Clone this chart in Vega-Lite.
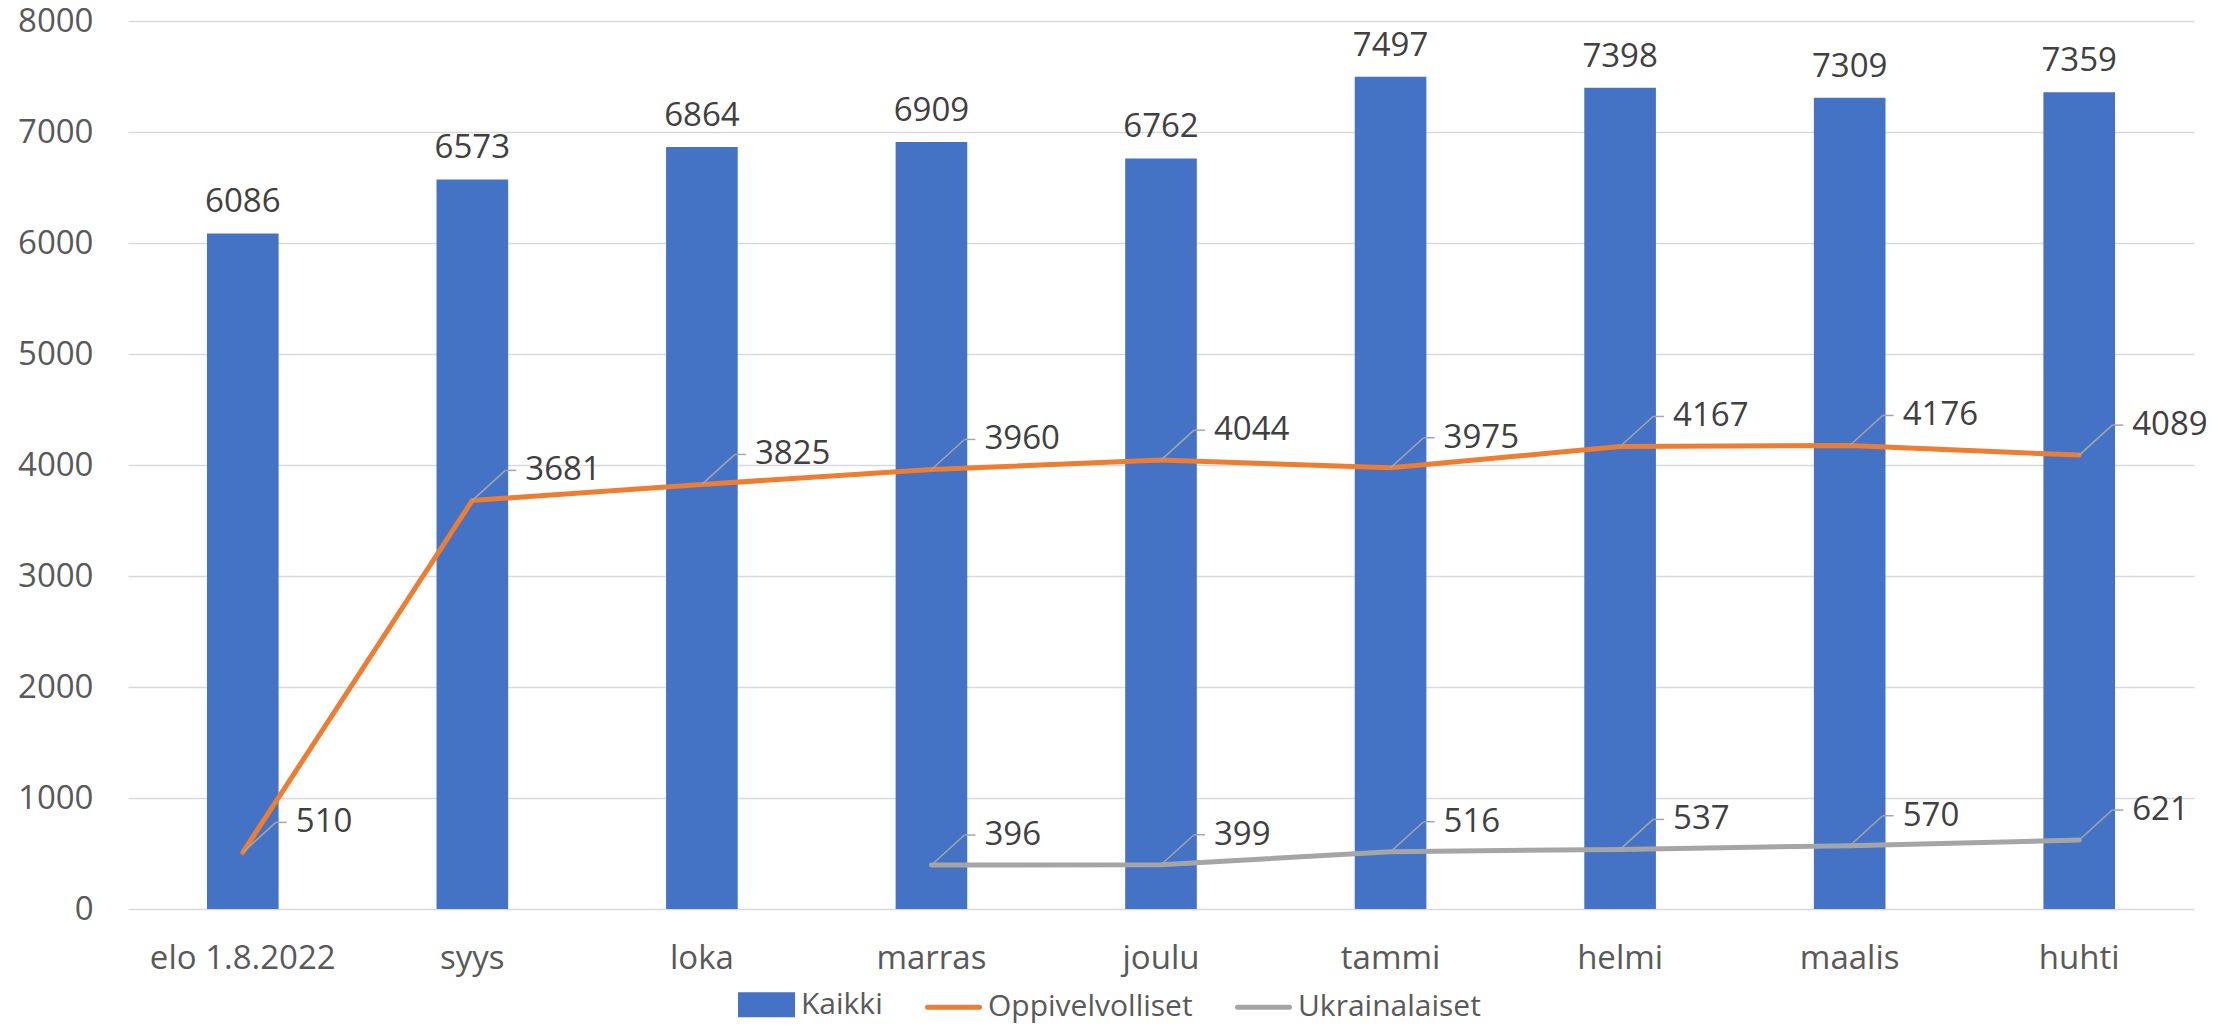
{
  "$schema": "https://vega.github.io/schema/vega-lite/v6.json",
  "autosize": {"type": "none"},
  "padding": {"left": 128, "top": 21, "right": 42, "bottom": 118},
  "width": 2066,
  "height": 888,
  "background": "white",
  "config": {
    "font": "Open Sans",
    "view": {"stroke": null},
    "axis": {"labelFont": "Open Sans", "labelColor": "#595959", "labelFontSize": 33, "labelLimit": 0}
  },
  "data": {
    "values": [
      {"month": "elo 1.8.2022", "series": "Kaikki", "value": 6086},
      {"month": "syys", "series": "Kaikki", "value": 6573},
      {"month": "loka", "series": "Kaikki", "value": 6864},
      {"month": "marras", "series": "Kaikki", "value": 6909},
      {"month": "joulu", "series": "Kaikki", "value": 6762},
      {"month": "tammi", "series": "Kaikki", "value": 7497},
      {"month": "helmi", "series": "Kaikki", "value": 7398},
      {"month": "maalis", "series": "Kaikki", "value": 7309},
      {"month": "huhti", "series": "Kaikki", "value": 7359},
      {"month": "elo 1.8.2022", "series": "Oppivelvolliset", "value": 510},
      {"month": "syys", "series": "Oppivelvolliset", "value": 3681},
      {"month": "loka", "series": "Oppivelvolliset", "value": 3825},
      {"month": "marras", "series": "Oppivelvolliset", "value": 3960},
      {"month": "joulu", "series": "Oppivelvolliset", "value": 4044},
      {"month": "tammi", "series": "Oppivelvolliset", "value": 3975},
      {"month": "helmi", "series": "Oppivelvolliset", "value": 4167},
      {"month": "maalis", "series": "Oppivelvolliset", "value": 4176},
      {"month": "huhti", "series": "Oppivelvolliset", "value": 4089},
      {"month": "marras", "series": "Ukrainalaiset", "value": 396},
      {"month": "joulu", "series": "Ukrainalaiset", "value": 399},
      {"month": "tammi", "series": "Ukrainalaiset", "value": 516},
      {"month": "helmi", "series": "Ukrainalaiset", "value": 537},
      {"month": "maalis", "series": "Ukrainalaiset", "value": 570},
      {"month": "huhti", "series": "Ukrainalaiset", "value": 621}
    ]
  },
  "encoding": {
    "x": {
      "field": "month", "type": "nominal", "sort": null, "title": null,
      "scale": {"paddingInner": 0.688, "paddingOuter": 0.344},
      "axis": {"labelAngle": 0, "ticks": false, "tickSize": 0, "domain": false, "labelPadding": 59, "labelBaseline": "alphabetic"}
    },
    "y": {
      "field": "value", "type": "quantitative", "title": null,
      "scale": {"domain": [0, 8000], "nice": false},
      "axis": {"values": [0, 1000, 2000, 3000, 4000, 5000, 6000, 7000, 8000], "format": "d", "ticks": false, "tickSize": 0, "domain": false, "labelPadding": 35, "gridColor": "#D9D9D9", "gridWidth": 1.5}
    }
  },
  "layer": [
    {
      "transform": [{"filter": "datum.series === 'Kaikki'"}],
      "mark": {"type": "bar"},
      "encoding": {
        "color": {
          "field": "series", "type": "nominal",
          "scale": {"domain": ["Kaikki", "Oppivelvolliset", "Ukrainalaiset"], "range": ["#4472C4", "#ED7D31", "#A5A5A5"]},
          "legend": {
            "orient": "none", "legendX": 610, "legendY": 955, "direction": "horizontal", "title": null,
            "padding": 0, "symbolSize": 2704, "labelFontSize": 30, "labelColor": "#595959", "labelFont": "Open Sans",
            "labelLimit": 0, "labelOffset": 6, "columnPadding": 34,
            "encode": {
              "symbols": {
                "update": {
                  "shape": {"signal": "datum.value === 'Kaikki' ? 'M-1,-0.385H1V0.385H-1Z' : 'M-1,0H1'"},
                  "fill": {"signal": "datum.value === 'Kaikki' ? '#4472C4' : 'transparent'"},
                  "stroke": {"signal": "datum.value === 'Kaikki' ? 'transparent' : (datum.value === 'Oppivelvolliset' ? '#ED7D31' : '#A5A5A5')"},
                  "strokeWidth": {"value": 5},
                  "strokeCap": {"value": "round"},
                  "opacity": {"value": 1}
                }
              }
            }
          }
        }
      }
    },
    {
      "transform": [{"filter": "datum.series === 'Kaikki'"}],
      "mark": {"type": "text", "baseline": "alphabetic", "dy": -21, "fontSize": 33, "color": "#404040", "font": "Open Sans"},
      "encoding": {"text": {"field": "value", "type": "quantitative", "format": "d"}}
    },
    {
      "transform": [{"filter": "datum.series !== 'Kaikki'"}],
      "mark": {"type": "line", "strokeWidth": 5, "strokeCap": "round", "strokeJoin": "round"},
      "encoding": {
        "color": {"field": "series", "type": "nominal", "legend": null}
      }
    },
    {
      "transform": [{"filter": "datum.series !== 'Kaikki'"}],
      "mark": {"type": "rule", "color": "#A6A6A6", "strokeWidth": 1.5, "x2Offset": 33, "y2Offset": -30},
      "encoding": {
        "x2": {"field": "month"},
        "y2": {"field": "value"}
      }
    },
    {
      "transform": [{"filter": "datum.series !== 'Kaikki'"}],
      "mark": {"type": "rule", "color": "#A6A6A6", "strokeWidth": 1.5, "xOffset": 33, "x2Offset": 44, "yOffset": -30, "y2Offset": -30},
      "encoding": {
        "x2": {"field": "month"},
        "y2": {"field": "value"}
      }
    },
    {
      "transform": [{"filter": "datum.series !== 'Kaikki'"}],
      "mark": {"type": "text", "align": "left", "baseline": "middle", "dx": 53, "dy": -30, "fontSize": 33, "color": "#404040", "font": "Open Sans"},
      "encoding": {"text": {"field": "value", "type": "quantitative", "format": "d"}}
    }
  ]
}
